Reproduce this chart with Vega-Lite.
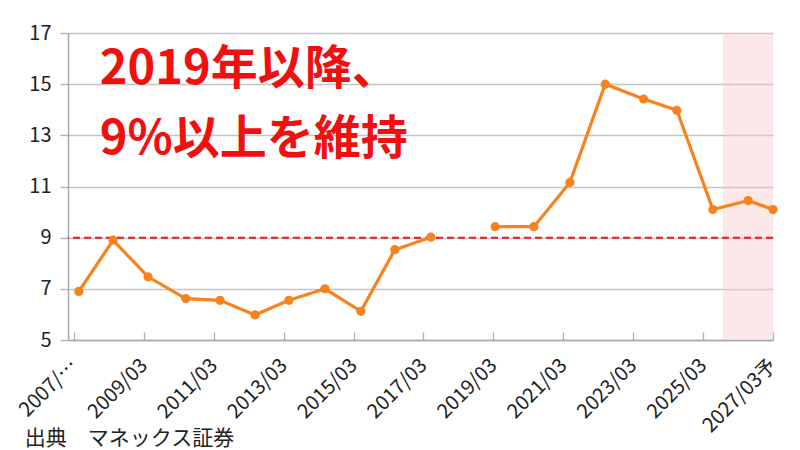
{
  "$schema": "https://vega.github.io/schema/vega-lite/v6.json",
  "width": 705,
  "height": 307,
  "autosize": "none",
  "padding": {"left": 68, "top": 33, "right": 27, "bottom": 110},
  "background": "white",
  "title": {
    "text": "出典　マネックス証券",
    "orient": "bottom",
    "anchor": "start",
    "frame": "bounds",
    "fontSize": 21,
    "fontWeight": "normal",
    "color": "#222222",
    "font": "Noto Sans CJK JP",
    "offset": -8,
    "dx": 9
  },
  "datasets": {
    "series": [
      {"t": 2007.14, "value": 6.9},
      {"t": 2008.12, "value": 8.9},
      {"t": 2009.12, "value": 7.47},
      {"t": 2010.2, "value": 6.62},
      {"t": 2011.18, "value": 6.55},
      {"t": 2012.18, "value": 5.98},
      {"t": 2013.15, "value": 6.55},
      {"t": 2014.18, "value": 7.0},
      {"t": 2015.21, "value": 6.12},
      {"t": 2016.18, "value": 8.53},
      {"t": 2017.21, "value": 9.02},
      {"t": 2018.2, "value": null},
      {"t": 2019.05, "value": 9.43},
      {"t": 2020.16, "value": 9.43},
      {"t": 2021.19, "value": 11.16},
      {"t": 2022.2, "value": 15.0},
      {"t": 2023.3, "value": 14.42},
      {"t": 2024.25, "value": 13.98},
      {"t": 2025.28, "value": 10.1},
      {"t": 2026.29, "value": 10.45},
      {"t": 2027.0, "value": 10.1}
    ],
    "forecast": [{"start": 2025.57, "end": 2027.0}],
    "threshold": [{"level": 9}],
    "note": [{"t": 2007.74, "value": 15.55, "label": ["2019年以降、", "9%以上を維持"]}]
  },
  "layer": [
    {
      "data": {"name": "forecast"},
      "mark": {"type": "rect", "color": "#f9c9c9", "opacity": 0.42},
      "encoding": {
        "x": {"field": "start", "type": "quantitative"},
        "x2": {"field": "end"}
      }
    },
    {
      "data": {"name": "threshold"},
      "mark": {"type": "rule", "color": "#f5141e", "strokeWidth": 2, "strokeDash": [7, 4]},
      "encoding": {
        "y": {"field": "level", "type": "quantitative"}
      }
    },
    {
      "data": {"name": "series"},
      "mark": {"type": "line", "color": "#f7821e", "strokeWidth": 3.2, "invalid": "break-paths-show-domains"},
      "encoding": {
        "x": {"field": "t", "type": "quantitative"},
        "y": {"field": "value", "type": "quantitative"}
      }
    },
    {
      "data": {"name": "series"},
      "transform": [{"filter": "datum.value != null"}],
      "mark": {"type": "point", "filled": true, "color": "#f7821e", "size": 85, "opacity": 1},
      "encoding": {
        "x": {"field": "t", "type": "quantitative"},
        "y": {"field": "value", "type": "quantitative"}
      }
    },
    {
      "data": {"name": "note"},
      "mark": {
        "type": "text",
        "align": "left",
        "baseline": "middle",
        "color": "#f01010",
        "font": "Noto Sans CJK JP",
        "fontWeight": "bold",
        "fontSize": 47,
        "lineHeight": 70
      },
      "encoding": {
        "x": {"field": "t", "type": "quantitative"},
        "y": {"field": "value", "type": "quantitative"},
        "text": {"field": "label"}
      }
    }
  ],
  "encoding": {
    "x": {
      "type": "quantitative",
      "scale": {"domain": [2006.83, 2027.0], "nice": false, "zero": false},
      "axis": {
        "title": null,
        "values": [2007, 2009, 2011, 2013, 2015, 2017, 2019, 2021, 2023, 2025, 2027],
        "labelExpr": "datum.value == 2007 ? '2007/…' : (datum.value == 2027 ? '2027/03予' : datum.value + '/03')",
        "labelAngle": -45,
        "labelAlign": "right",
        "labelBaseline": "middle",
        "labelFontSize": 20,
        "labelPadding": 30,
        "tickSize": -8,
        "grid": false,
        "labelOverlap": false,
        "labelBound": false,
        "labelFlush": false
      }
    },
    "y": {
      "type": "quantitative",
      "scale": {"domain": [5, 17], "nice": false, "zero": false},
      "axis": {
        "title": null,
        "values": [5, 7, 9, 11, 13, 15, 17],
        "labelFontSize": 20,
        "labelPadding": 9,
        "tickSize": 8,
        "grid": true
      }
    }
  },
  "config": {
    "view": {"stroke": null},
    "font": "Noto Sans CJK JP",
    "axis": {
      "labelFont": "Noto Sans CJK JP",
      "labelColor": "#222222",
      "domainColor": "#a8a8a8",
      "domainWidth": 1.5,
      "tickColor": "#b0b0b0",
      "tickWidth": 1.3,
      "gridColor": "#c4c4c4",
      "gridWidth": 1.3
    }
  }
}
